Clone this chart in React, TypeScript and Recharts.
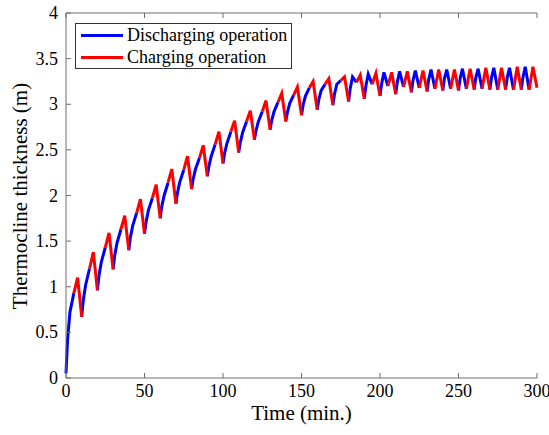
import { LineChart, Line, XAxis, YAxis } from "recharts"

// readings per 10-min cycle (discharge first half, charge second half)
const cycleTroughs = [
  0.05, 0.67, 0.96, 1.19, 1.4, 1.58, 1.75, 1.91, 2.07, 2.21, 2.35, 2.47, 2.61, 2.72, 2.81,
  2.88, 2.94, 2.99, 3.03, 3.06, 3.09, 3.11, 3.13, 3.14, 3.15, 3.15, 3.16, 3.16, 3.16, 3.16, 3.18,
]
const blueAfter1 = [
  0.42, 0.85, 1.12, 1.34, 1.54, 1.71, 1.88, 2.03, 2.18, 2.32, 2.46, 2.58, 2.71, 2.82, 2.91,
  2.99, 3.05, 3.11, 3.17, 3.2, 3.22, 3.24, 3.26, 3.27, 3.28, 3.28, 3.29, 3.29, 3.29, 3.29,
]
const blueMid = [
  0.72, 1.02, 1.27, 1.48, 1.67, 1.84, 2.0, 2.15, 2.29, 2.43, 2.57, 2.69, 2.81, 2.92, 3.01,
  3.09, 3.15, 3.22, 3.3, 3.33, 3.35, 3.36, 3.37, 3.38, 3.38, 3.39, 3.39, 3.4, 3.4, 3.41,
]
const blueEnd = [
  0.93, 1.2, 1.43, 1.63, 1.81, 1.97, 2.14, 2.28, 2.41, 2.56, 2.7, 2.81, 2.92, 3.02, 3.1,
  3.18, 3.22, 3.26, 3.24, 3.22, 3.2, 3.19, 3.18, 3.17, 3.17, 3.17, 3.17, 3.16, 3.16, 3.16,
]
const redPeaks = [
  1.1, 1.38, 1.59, 1.78, 1.96, 2.12, 2.29, 2.43, 2.55, 2.7, 2.82, 2.93, 3.04, 3.12, 3.19,
  3.25, 3.28, 3.3, 3.32, 3.34, 3.35, 3.36, 3.37, 3.38, 3.38, 3.39, 3.4, 3.4, 3.41, 3.41,
]
const xTicks = [0, 50, 100, 150, 200, 250, 300]
const yTicks = [0, 0.5, 1, 1.5, 2, 2.5, 3, 3.5, 4]

type Row = { t: number; dis: number | null; chg: number | null }

const rows: Row[] = []
redPeaks.forEach((peak, k) => {
  const t0 = k * 10
  rows.push({ t: t0, dis: cycleTroughs[k], chg: k > 0 ? cycleTroughs[k] : null })
  rows.push({ t: t0 + 1, dis: blueAfter1[k], chg: null })
  rows.push({ t: t0 + 2.5, dis: blueMid[k], chg: null })
  rows.push({ t: t0 + 5, dis: blueEnd[k], chg: blueEnd[k] })
  rows.push({ t: t0 + 7.4, dis: null, chg: peak })
})
rows.push({ t: 300, dis: null, chg: cycleTroughs[30] })

const FONT = "'Liberation Serif', 'Times New Roman', serif"
const AXIS = "#6e6e6e"
const NoTick = () => <g />

const XTick = (props: any) => (
  <text x={props.x} y={props.y} dy={13} textAnchor="middle" fontFamily={FONT} fontSize={18} fill="#000">
    {props.payload.value}
  </text>
)

const YTick = (props: any) => (
  <text x={props.x} y={props.y} dy={6} textAnchor="end" fontFamily={FONT} fontSize={18} fill="#000">
    {props.payload.value}
  </text>
)

export default function App() {
  return (
    <div style={{ position: "absolute", left: 0, top: 0, width: 549, height: 435, background: "#fff", fontFamily: FONT }}>
      <LineChart width={549} height={435} data={rows} margin={{ top: 12, right: 12, left: 0, bottom: 0 }}>
        <XAxis
          dataKey="t"
          type="number"
          domain={[0, 300]}
          ticks={xTicks}
          height={57}
          stroke={AXIS}
          tickSize={-5}
          tickMargin={11}
          tick={XTick}
        />
        <XAxis
          xAxisId="top"
          dataKey="t"
          type="number"
          orientation="top"
          domain={[0, 300]}
          ticks={xTicks}
          height={1}
          stroke={AXIS}
          tickSize={-5}
          tick={NoTick}
        />
        <YAxis
          type="number"
          domain={[0, 4]}
          ticks={yTicks}
          width={66}
          stroke={AXIS}
          tickSize={-5}
          tickMargin={13}
          tick={YTick}
        />
        <YAxis
          yAxisId="right"
          type="number"
          orientation="right"
          domain={[0, 4]}
          ticks={yTicks}
          width={0}
          stroke={AXIS}
          tickSize={-5}
          tick={NoTick}
        />
        <Line
          dataKey="dis"
          type="linear"
          stroke="#0000ff"
          strokeWidth={3}
          dot={false}
          connectNulls={false}
          isAnimationActive={false}
        />
        <Line
          dataKey="chg"
          type="linear"
          stroke="#ff0000"
          strokeWidth={3}
          dot={false}
          connectNulls={false}
          isAnimationActive={false}
        />
      </LineChart>

      {/* axis titles */}
      <div
        style={{
          position: "absolute",
          left: 66,
          width: 471,
          top: 400,
          textAlign: "center",
          fontSize: 21,
          lineHeight: "26px",
          color: "#000",
        }}
      >
        Time (min.)
      </div>
      <div
        style={{
          position: "absolute",
          left: 20,
          top: 196,
          width: 300,
          marginLeft: -150,
          marginTop: -13,
          textAlign: "center",
          fontSize: 21,
          lineHeight: "26px",
          color: "#000",
          transform: "rotate(-90deg)",
          whiteSpace: "nowrap",
        }}
      >
        Thermocline thickness (m)
      </div>

      <div
        style={{
          position: "absolute",
          left: 75,
          top: 23,
          width: 215,
          height: 44,
          border: "1px solid #333",
          background: "#fff",
          fontSize: 18,
          lineHeight: "21px",
        }}
      >
        {[
          { name: "Discharging operation", color: "#0000ff" },
          { name: "Charging operation", color: "#ff0000" },
        ].map((item) => (
          <div key={item.name} style={{ display: "flex", alignItems: "center", height: 21, marginTop: 1 }}>
            <span style={{ display: "inline-block", width: 42, height: 3, background: item.color, marginLeft: 5, marginRight: 4 }} />
            <span>{item.name}</span>
          </div>
        ))}
      </div>
    </div>
  )
}
